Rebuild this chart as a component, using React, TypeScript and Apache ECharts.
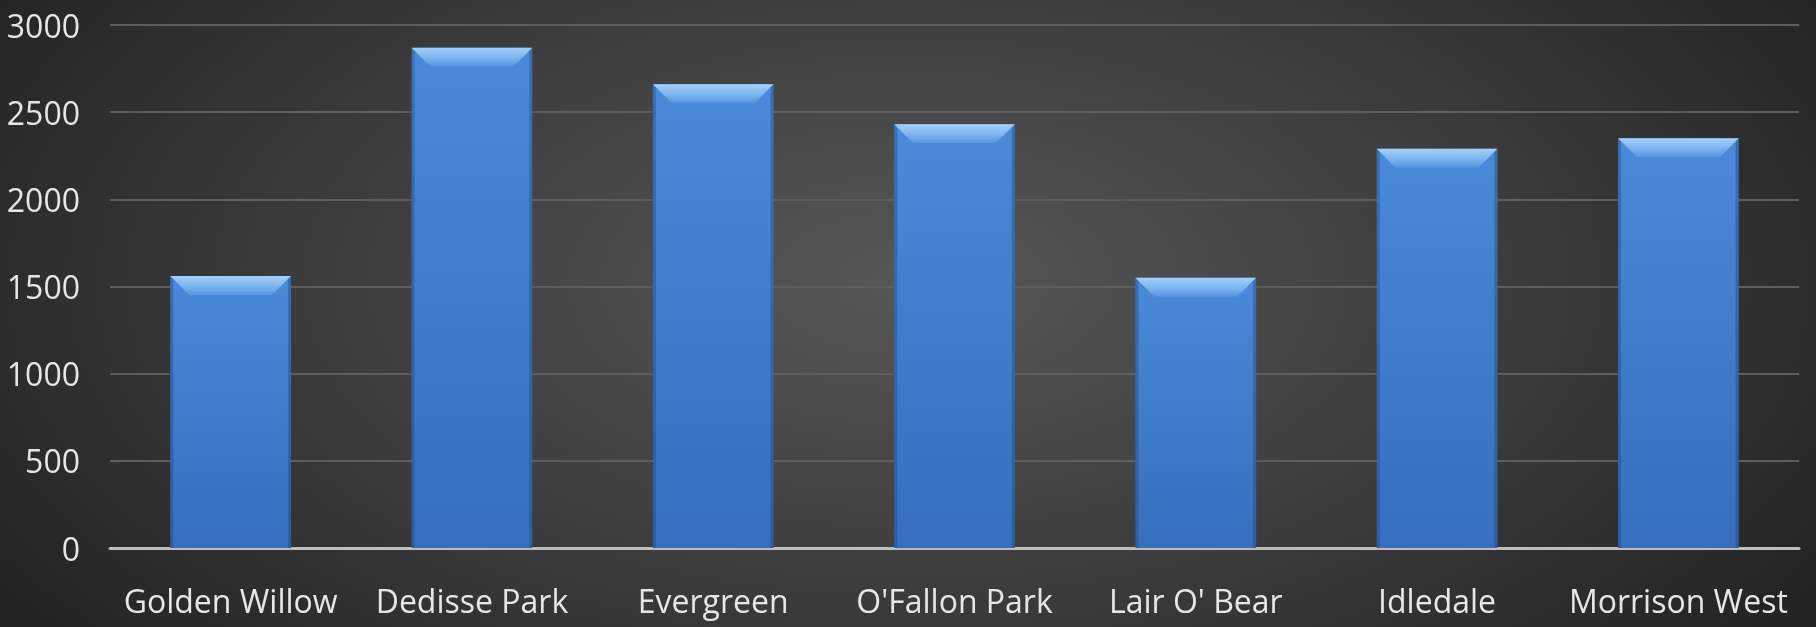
import React, { useEffect, useRef } from "react";
import * as echarts from "echarts";

const categories = ["Golden Willow", "Dedisse Park", "Evergreen", "O'Fallon Park", "Lair O' Bear", "Idledale", "Morrison West"];
const values = [1560, 2870, 2660, 2430, 1550, 2290, 2350];
const yTicks = { min: 0, max: 3000, interval: 500 };

export default function App() {
  const ref = useRef<HTMLDivElement>(null);
  useEffect(() => {
    if (!ref.current) return;
    const chart = echarts.init(ref.current, undefined, { renderer: "svg" });
    const bodyFill = new echarts.graphic.LinearGradient(0, 0, 0, 1, [
      { offset: 0, color: "#4a8ad8" },
      { offset: 1, color: "#356fbd" },
    ]);
    const bevelFill = new echarts.graphic.LinearGradient(0, 0, 0, 1, [
      { offset: 0, color: "#a6cff8" },
      { offset: 0.5, color: "#7fb7f1" },
      { offset: 1, color: "#5394de" },
    ]);
    chart.setOption({
      animation: false,
      backgroundColor: "transparent",
      grid: { left: 110, right: 17, top: 25, bottom: 79, containLabel: false },
      xAxis: {
        type: "category",
        data: categories,
        axisLine: { lineStyle: { color: "#bdbdbd", width: 3 } },
        axisTick: { show: false },
        axisLabel: { color: "#e6e6e6", fontSize: 32, fontFamily: "Open Sans", margin: 36, interval: 0 },
      },
      yAxis: {
        type: "value",
        min: yTicks.min,
        max: yTicks.max,
        interval: yTicks.interval,
        axisLine: { show: false },
        axisTick: { show: false },
        axisLabel: {
          color: "#e6e6e6",
          fontSize: 32,
          fontFamily: "Open Sans",
          margin: 30,
          formatter: (v: number) => String(v),
        },
        splitLine: { lineStyle: { color: "#5e5e5e", width: 2 } },
      },
      series: [
        {
          type: "custom",
          data: categories.map((c, i) => [i, values[i]]),
          encode: { x: 0, y: 1 },
          renderItem: (params: any, api: any) => {
            const idx = api.value(0);
            const v = api.value(1);
            const top = api.coord([idx, v]);
            const base = api.coord([idx, 0]);
            const bw = api.size([1, 0])[0] * 0.5;
            const x = top[0] - bw / 2;
            const y = top[1];
            const h = base[1] - y;
            const b = 19;
            const s = 3;
            return {
              type: "group",
              children: [
                { type: "rect", shape: { x, y, width: bw, height: h }, style: { fill: bodyFill } },
                { type: "rect", shape: { x, y, width: s, height: h }, style: { fill: "rgba(25,60,115,0.35)" } },
                { type: "rect", shape: { x: x + bw - s, y, width: s, height: h }, style: { fill: "rgba(25,60,115,0.35)" } },
                {
                  type: "polygon",
                  shape: { points: [[x, y], [x + bw, y], [x + bw - b, y + b], [x + b, y + b]] },
                  style: { fill: bevelFill },
                },
              ],
            };
          },
        },
      ],
    });
    return () => chart.dispose();
  }, []);
  return (
    <div
      style={{
        position: "fixed",
        left: 0,
        top: 0,
        width: 1816,
        height: 627,
        background: "radial-gradient(ellipse 60% 90% at 50% 45%, #575757 0%, #3c3c3c 55%, #232323 100%)",
      }}
    >
      <div ref={ref} style={{ width: 1816, height: 627 }} />
    </div>
  );
}
